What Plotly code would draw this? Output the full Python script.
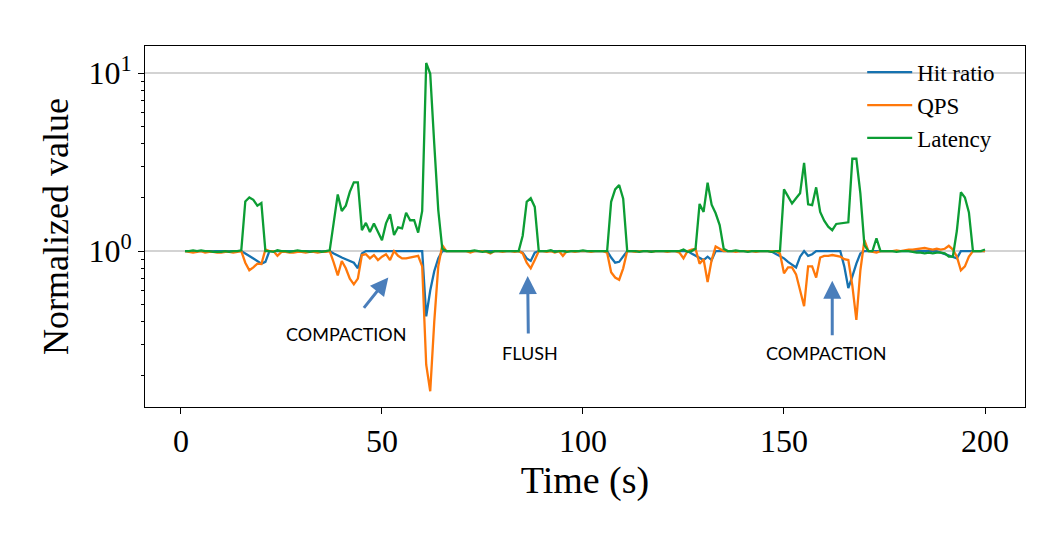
import plotly.graph_objects as go

# ---- data ----
time_s = list(range(1, 201))

hit_ratio = [
    1.00, 1.00, 1.00, 1.00, 1.00, 1.00, 1.00, 1.00, 1.00, 1.00,
    1.00, 1.00, 1.00, 1.00, 1.00, 0.97, 0.94, 0.91, 0.88, 0.85,
    0.87, 1.00, 1.00, 1.00, 1.00, 1.00, 1.00, 1.00, 1.00, 1.00,
    1.00, 1.00, 1.00, 1.00, 1.00, 1.00, 1.00, 0.97, 0.94, 0.92,
    0.90, 0.88, 0.86, 0.80, 0.97, 1.00, 1.00, 1.00, 1.00, 1.00,
    1.00, 1.00, 1.00, 1.00, 1.00, 1.00, 1.00, 1.00, 1.00, 1.00,
    0.43, 0.60, 0.77, 0.91, 1.00, 1.00, 1.00, 1.00, 1.00, 1.00,
    1.00, 1.00, 1.00, 1.00, 1.00, 1.00, 1.00, 1.00, 1.00, 1.00,
    1.00, 1.00, 1.00, 1.00, 0.98, 0.91, 0.88, 0.98, 1.00, 1.00,
    1.00, 1.00, 1.00, 1.00, 1.00, 1.00, 1.00, 1.00, 1.00, 1.00,
    1.00, 1.00, 1.00, 1.00, 1.00, 1.00, 0.92, 0.86, 0.87, 0.93,
    1.00, 1.00, 1.00, 1.00, 1.00, 1.00, 1.00, 1.00, 1.00, 1.00,
    1.00, 1.00, 1.00, 1.00, 1.00, 1.00, 0.97, 0.94, 0.91, 0.89,
    0.93, 0.89, 1.00, 1.00, 1.00, 1.00, 1.00, 1.00, 1.00, 1.00,
    1.00, 1.00, 1.00, 1.00, 1.00, 1.00, 0.99, 0.96, 0.94, 0.91,
    0.87, 0.84, 0.81, 0.93, 1.00, 0.94, 0.96, 1.00, 1.00, 1.00,
    1.00, 1.00, 1.00, 1.00, 0.82, 0.62, 0.72, 0.85, 0.97, 1.00,
    1.00, 1.00, 1.00, 1.00, 1.00, 1.00, 1.00, 1.00, 1.00, 1.00,
    1.00, 1.00, 1.00, 1.00, 1.00, 1.00, 1.00, 1.00, 0.98, 0.96,
    0.94, 0.92, 0.91, 1.00, 1.00, 1.00, 1.00, 1.00, 1.00, 1.00,
]

qps = [
    1.00, 0.99, 0.98, 0.99, 1.00, 0.98, 0.99, 0.99, 0.98, 0.98,
    0.99, 0.99, 0.98, 0.99, 1.00, 0.86, 0.78, 0.81, 0.85, 0.845,
    1.02, 1.00, 1.00, 0.94, 0.99, 0.99, 0.98, 0.98, 0.99, 0.99,
    0.98, 0.99, 0.99, 0.98, 0.99, 0.99, 1.00, 0.86, 0.73, 0.88,
    0.80, 0.70, 0.65, 0.70, 0.95, 0.96, 0.91, 0.95, 0.89, 0.93,
    0.96, 0.89, 1.00, 0.94, 0.91, 0.91, 0.92, 0.93, 0.94, 0.82,
    0.23, 0.163, 0.40, 0.82, 1.08, 1.00, 1.00, 1.00, 1.00, 1.00,
    1.00, 0.98, 1.00, 1.00, 1.00, 0.99, 0.97, 1.00, 1.00, 0.99,
    1.00, 1.00, 0.99, 1.00, 0.97, 0.86, 0.80, 0.89, 1.00, 1.00,
    0.99, 1.00, 0.98, 1.00, 0.94, 1.00, 1.00, 0.99, 1.00, 1.00,
    1.00, 0.99, 1.00, 1.00, 1.00, 0.98, 0.76, 0.71, 0.69, 0.80,
    1.00, 1.00, 0.99, 1.00, 1.00, 1.00, 0.99, 1.00, 1.00, 1.00,
    0.99, 1.00, 1.00, 0.98, 0.91, 1.00, 1.02, 1.03, 0.85, 0.90,
    0.67, 0.89, 1.06, 1.03, 1.00, 1.00, 1.00, 0.99, 1.00, 1.00,
    1.00, 1.00, 0.99, 1.00, 1.00, 1.00, 1.00, 1.00, 0.97, 0.75,
    0.81, 0.81, 0.74, 0.60, 0.49, 0.82, 0.82, 0.71, 0.92, 0.94,
    0.94, 0.95, 0.94, 0.93, 0.90, 0.89, 0.64, 0.41, 0.78, 1.15,
    1.00, 0.99, 0.98, 1.00, 1.00, 1.00, 1.00, 1.01, 1.00, 1.01,
    1.02, 1.02, 1.03, 1.03, 1.04, 1.03, 1.02, 1.03, 1.02, 1.03,
    1.07, 1.02, 0.93, 0.78, 0.82, 0.93, 1.00, 1.00, 1.00, 1.00,
]

latency = [
    1.00, 1.00, 1.01, 1.00, 1.01, 1.00, 1.00, 0.99, 0.99, 0.99,
    1.00, 0.99, 1.00, 1.00, 1.01, 1.90, 2.00, 1.94, 1.80, 1.86,
    1.00, 1.00, 0.99, 1.01, 1.00, 1.00, 0.99, 1.00, 1.01, 1.00,
    1.00, 0.99, 1.00, 1.00, 0.99, 1.00, 1.01, 1.45, 2.08, 1.68,
    1.80, 2.15, 2.43, 2.43, 1.31, 1.44, 1.28, 1.43, 1.28, 1.15,
    1.43, 1.61, 1.23, 1.36, 1.34, 1.64, 1.49, 1.49, 1.27, 1.68,
    11.4, 9.9, 4.0, 1.7, 1.03, 1.00, 1.00, 1.00, 1.00, 1.00,
    1.00, 1.00, 1.01, 1.00, 0.99, 1.00, 0.98, 1.00, 1.00, 1.00,
    1.00, 1.00, 1.00, 1.00, 1.22, 1.89, 1.98, 1.77, 1.00, 1.00,
    1.00, 1.01, 0.99, 1.00, 1.00, 0.99, 1.00, 1.00, 1.00, 1.01,
    1.00, 1.00, 1.00, 1.00, 1.00, 1.00, 1.89, 2.22, 2.35, 1.97,
    1.00, 1.00, 1.00, 0.99, 1.00, 1.00, 0.99, 1.00, 1.00, 1.00,
    1.00, 1.00, 1.00, 1.00, 1.02, 0.99, 1.00, 1.03, 1.84, 1.66,
    2.42, 1.82, 1.63, 1.40, 1.03, 1.00, 1.00, 1.01, 1.00, 1.00,
    0.99, 1.00, 1.00, 1.00, 1.00, 1.00, 0.99, 1.00, 1.00, 2.22,
    2.03, 1.85, 1.98, 2.11, 3.13, 1.83, 1.81, 2.28, 1.66, 1.48,
    1.37, 1.31, 1.42, 1.43, 1.43, 1.45, 3.30, 3.30, 2.10, 1.08,
    1.00, 1.00, 1.18, 1.00, 1.00, 1.00, 1.00, 0.99, 1.00, 1.00,
    1.00, 0.99, 0.98, 0.98, 0.97, 0.98, 0.97, 0.98, 0.98, 0.97,
    0.93, 0.93, 1.30, 2.14, 2.00, 1.65, 1.00, 1.00, 1.00, 1.02,
]

series_names = ["Hit ratio", "QPS", "Latency"]
x_tick_vals = [0, 50, 100, 150, 200]
y_tick_vals = [1, 10]
y_tick_text = ["10<sup>0</sup>", "10<sup>1</sup>"]
y_minor_vals = [0.2, 0.3, 0.4, 0.5, 0.6, 0.7, 0.8, 0.9, 2, 3, 4, 5, 6, 7, 8, 9]
event_labels = ["COMPACTION", "FLUSH", "COMPACTION"]

colors = ["#1672b0", "#ff780a", "#0c9d34"]
serif = "Liberation Serif, DejaVu Serif, serif"

fig = go.Figure()
for name, ys, c in zip(series_names, [hit_ratio, qps, latency], colors):
    fig.add_trace(go.Scatter(x=time_s, y=ys, mode="lines", name=name,
                             line=dict(color=c, width=2.3)))

arrow_color = "#4a7ebb"
# (head t, head log10, tail t, tail log10)
arrows = [
    (51.57, -0.148, 45.2, -0.3275),
    (86.24, -0.1405, 86.4, -0.472),
    (162.0, -0.167, 162.0, -0.481),
]
text_pos = [(41.2, -0.4646), (86.8, -0.573), (160.5, -0.573)]

for (hx, hy, tx, ty) in arrows:
    fig.add_annotation(x=hx, y=hy, ax=tx, ay=ty, xref="x", yref="y",
                       axref="x", ayref="y", text="", showarrow=True,
                       arrowhead=2, arrowsize=1.2, arrowwidth=3,
                       arrowcolor=arrow_color)
for lbl, (px, py) in zip(event_labels, text_pos):
    fig.add_annotation(x=px, y=py, xref="x", yref="y", text=lbl,
                       showarrow=False,
                       font=dict(family="Lato, Open Sans, sans-serif",
                                 size=18, color="black"))

fig.update_layout(
    width=1058, height=533,
    margin=dict(l=137, r=41, t=38, b=134),
    paper_bgcolor="white", plot_bgcolor="white",
    font=dict(family=serif, color="black"),
    legend=dict(x=0.815, y=0.987, xanchor="left", yanchor="top",
                bgcolor="rgba(0,0,0,0)", font=dict(size=23, family=serif),
                itemwidth=45, tracegroupgap=0),
    showlegend=True,
)
fig.update_xaxes(
    range=[-8.95, 209.95], tickvals=x_tick_vals, ticks="outside",
    ticklen=6, tickcolor="black", showgrid=False, zeroline=False,
    showline=True, linecolor="black", linewidth=1, mirror=True,
    tickfont=dict(size=32, family=serif),
    title=dict(text="Time (s)", font=dict(size=38, family=serif), standoff=1),
)
fig.update_yaxes(
    type="log", range=[-0.876, 1.152], tickvals=y_tick_vals,
    ticktext=y_tick_text, ticks="outside", ticklen=6, tickcolor="black",
    showgrid=True, gridcolor="#d3d3d3", gridwidth=1.5, zeroline=False,
    showline=True, linecolor="black", linewidth=1, mirror=True,
    tickfont=dict(size=32, family=serif),
    minor=dict(tickvals=y_minor_vals, ticks="outside", ticklen=3.5,
               tickcolor="black", showgrid=False),
    title=dict(text="Normalized value", font=dict(size=36, family=serif),
               standoff=8),
)

fig.write_html("out.html")
